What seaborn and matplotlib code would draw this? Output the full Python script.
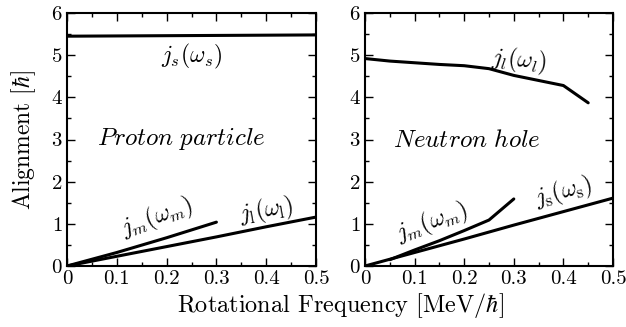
import numpy as np
import pandas as pd
import matplotlib
matplotlib.use("Agg")
import matplotlib.pyplot as plt
import seaborn as sns
from matplotlib.ticker import MultipleLocator

sns.set_theme(style="ticks")
plt.rcParams['font.family'] = ['cmr10', 'DejaVu Serif']
plt.rcParams['mathtext.fontset'] = 'cm'
plt.rcParams['axes.formatter.use_mathtext'] = True
plt.rcParams['axes.unicode_minus'] = False
plt.rcParams['text.color'] = 'black'
plt.rcParams['axes.labelcolor'] = 'black'

# Proton particle panel
p_js_x = [0.0, 0.5]
p_js_y = [5.45, 5.48]
p_jm_x = [0.0, 0.1, 0.2, 0.3]
p_jm_y = [0.0, 0.32, 0.67, 1.04]
p_jl_x = [0.0, 0.1, 0.2, 0.3, 0.4, 0.5]
p_jl_y = [0.0, 0.23, 0.46, 0.69, 0.93, 1.16]

# Neutron hole panel
n_jl_x = [0.0, 0.05, 0.1, 0.15, 0.2, 0.25, 0.3, 0.35, 0.4, 0.45]
n_jl_y = [4.92, 4.86, 4.82, 4.78, 4.75, 4.68, 4.52, 4.40, 4.28, 3.87]
n_jm_x = [0.05, 0.1, 0.15, 0.2, 0.25, 0.3]
n_jm_y = [0.15, 0.38, 0.6, 0.84, 1.09, 1.59]
n_js_x = [0.0, 0.1, 0.2, 0.3, 0.4, 0.5]
n_js_y = [0.0, 0.32, 0.64, 0.97, 1.29, 1.61]

fig = plt.figure(figsize=(6.26, 3.27), dpi=100)
ax1 = fig.add_axes([67/626, 61/327, 249/626, 253/327])
ax2 = fig.add_axes([365/626, 61/327, 248/626, 253/327])

lw = 2.2
sns.lineplot(x=p_js_x, y=p_js_y, ax=ax1, color='black', lw=lw)
sns.lineplot(x=p_jm_x, y=p_jm_y, ax=ax1, color='black', lw=lw)
sns.lineplot(x=p_jl_x, y=p_jl_y, ax=ax1, color='black', lw=lw)
sns.lineplot(x=n_jl_x, y=n_jl_y, ax=ax2, color='black', lw=lw)
sns.lineplot(x=n_jm_x, y=n_jm_y, ax=ax2, color='black', lw=lw)
sns.lineplot(x=n_js_x, y=n_js_y, ax=ax2, color='black', lw=lw)

for ax in (ax1, ax2):
    ax.set_xlim(0, 0.5)
    ax.set_ylim(0, 6)
    ax.xaxis.set_major_locator(MultipleLocator(0.1))
    ax.xaxis.set_minor_locator(MultipleLocator(0.05))
    ax.yaxis.set_major_locator(MultipleLocator(1))
    ax.yaxis.set_minor_locator(MultipleLocator(0.5))
    ax.tick_params(which='both', direction='in', top=True, right=True,
                   colors='black', labelcolor='black', labelsize=15, width=1)
    ax.tick_params(which='major', length=6, pad=3)
    ax.tick_params(which='minor', length=3)
    ax.set_xticks([0, 0.1, 0.2, 0.3, 0.4, 0.5])
    ax.set_xticklabels(['0', '0.1', '0.2', '0.3', '0.4', '0.5'])
    for s in ax.spines.values():
        s.set_linewidth(1.5)
        s.set_color('black')
    ax.set_xlabel('')
    ax.set_ylabel('')

ax1.set_ylabel(r'Alignment [$\hbar$]', fontsize=17, labelpad=9, color='black')
fig.text(340/626, 0.02, r'Rotational Frequency [MeV/$\hbar$]', ha='center',
         va='bottom', fontsize=17.5, color='black')

tf = 17
ax1.text(0.25, 4.97, r'$j_s(\omega_s)$', ha='center', va='center', fontsize=tf)
ax1.text(0.23, 3.0, r'$\mathit{Proton\ particle}$', ha='center', va='center',
         fontsize=18)
ax1.text(0.18, 1.14, r'$j_m(\omega_m)$', ha='center', va='center', fontsize=tf, rotation=20)
ax1.text(0.40, 1.30, r'$j_\mathrm{l}(\omega_\mathrm{l})$', ha='center', va='center', fontsize=tf, rotation=10)

ax2.text(0.31, 4.87, r'$j_l(\omega_l)$', ha='center', va='center', fontsize=tf, rotation=-5)
ax2.text(0.205, 2.97, r'$\mathit{Neutron\ hole}$', ha='center', va='center',
         fontsize=18)
ax2.text(0.135, 1.02, r'$j_m(\omega_m)$', ha='center', va='center', fontsize=tf, rotation=20)
ax2.text(0.40, 1.74, r'$j_\mathrm{s}(\omega_\mathrm{s})$', ha='center', va='center', fontsize=tf, rotation=15)

fig.savefig('out.png', dpi=100, facecolor='white')
